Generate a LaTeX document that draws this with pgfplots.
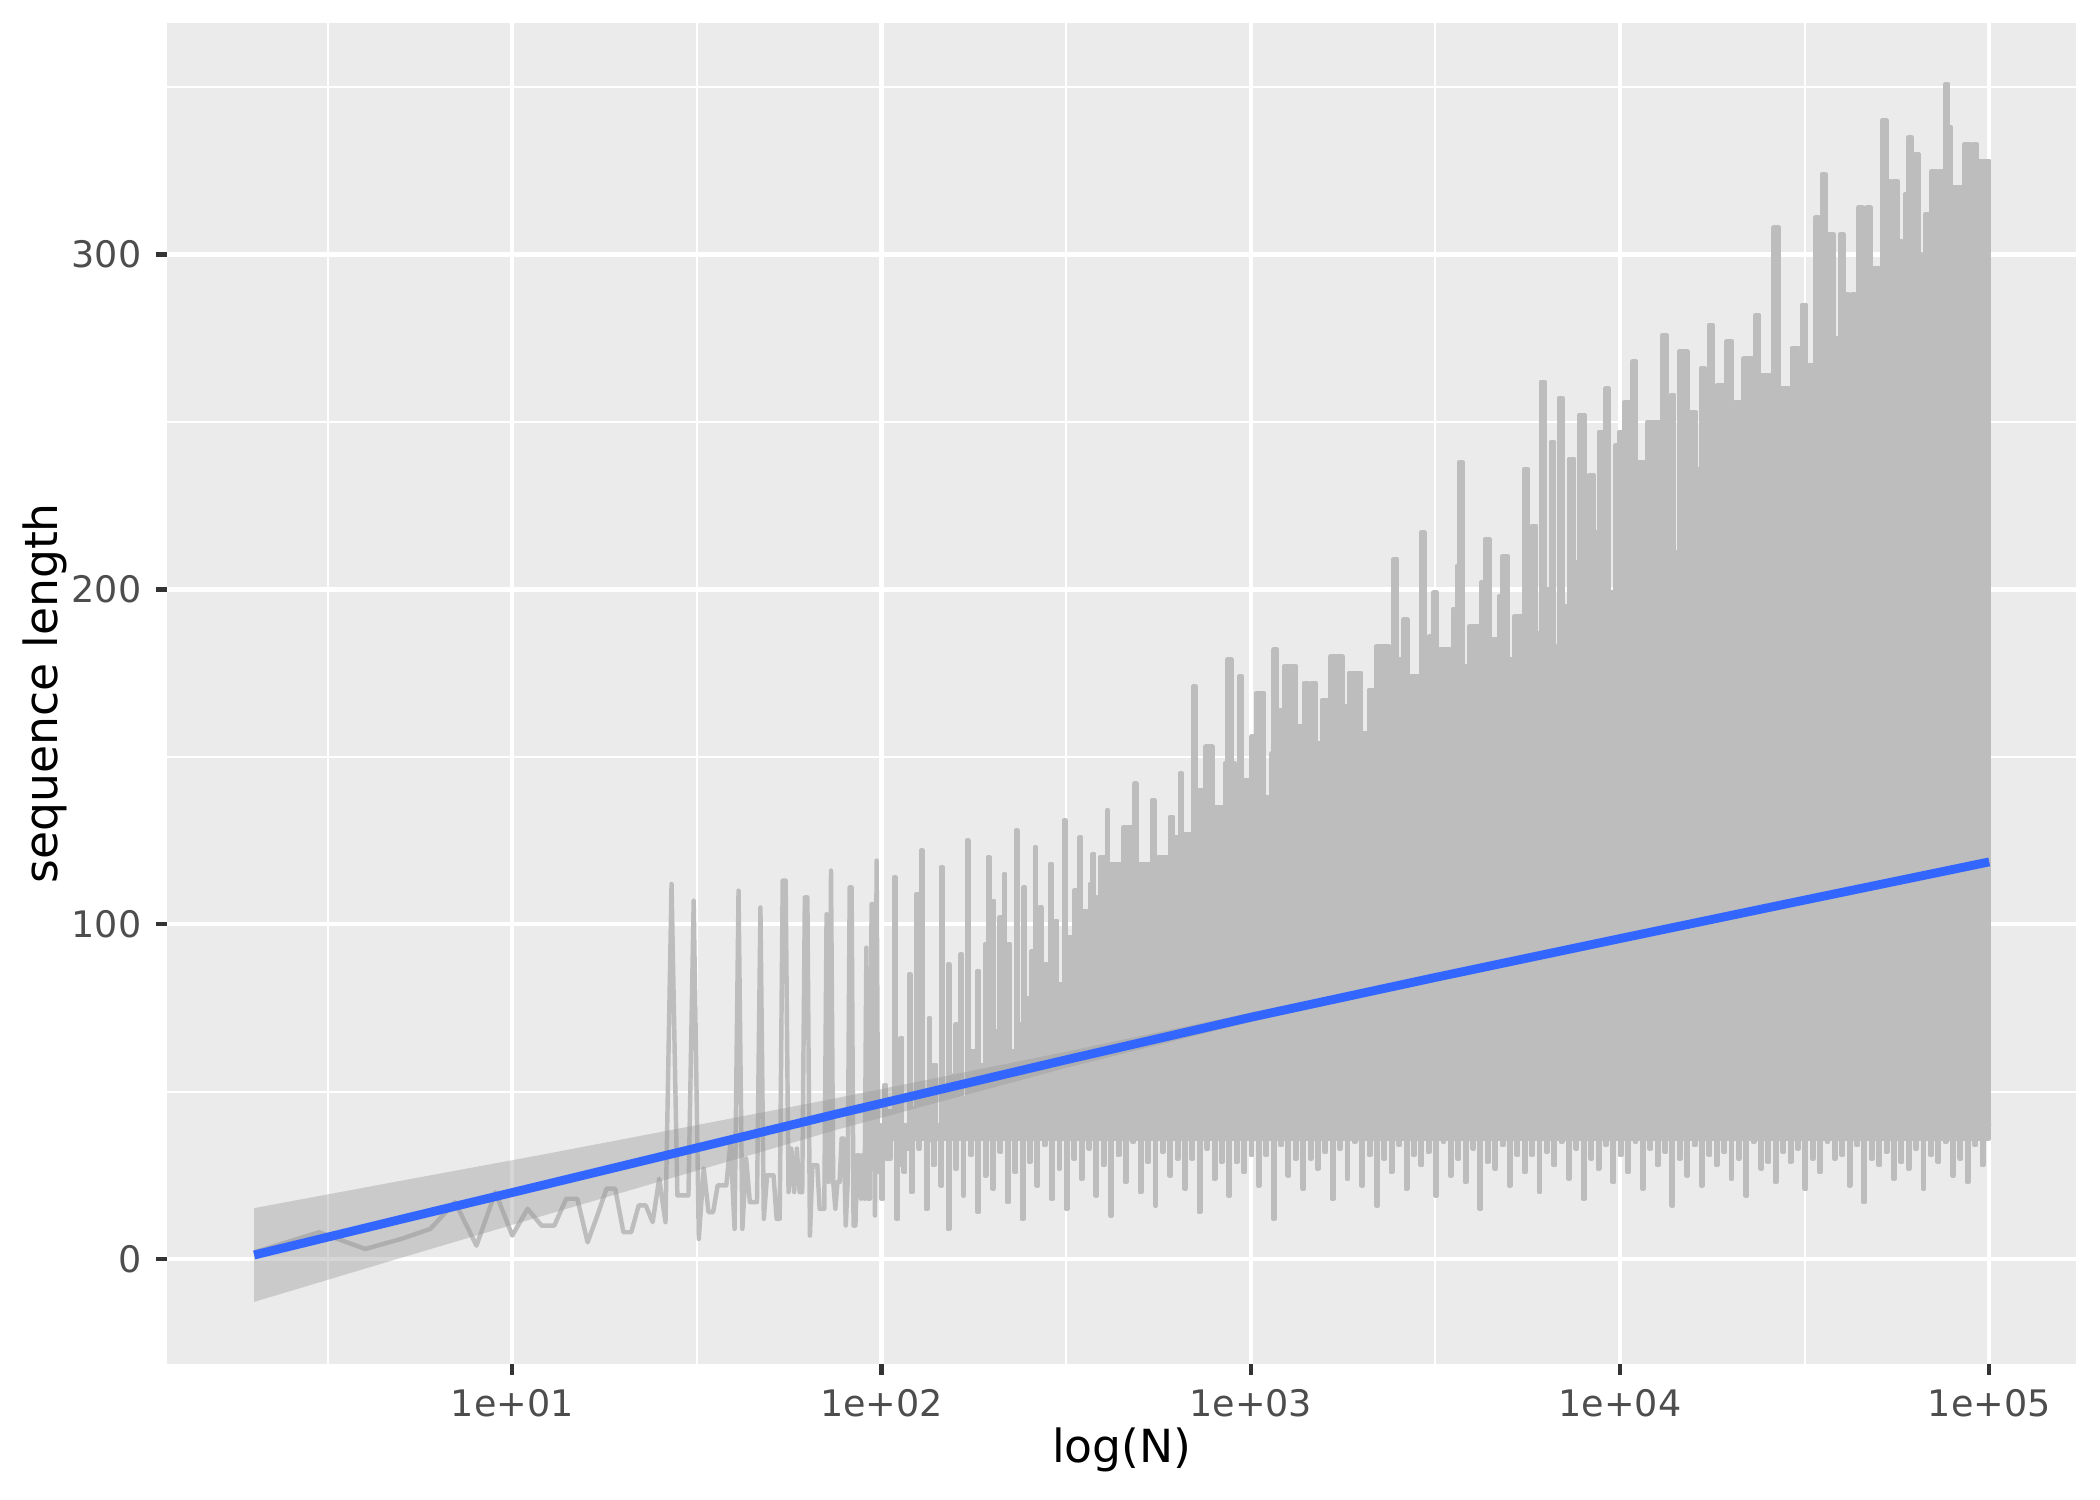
\documentclass[border=0pt]{standalone}
\usepackage{pgfplots}
\pgfplotsset{compat=1.18}
\usetikzlibrary{calc}
\usepackage{fontspec}
\setmainfont{DejaVu Sans}
\definecolor{panelbg}{HTML}{EBEBEB}
\definecolor{ticktext}{HTML}{4D4D4D}
\definecolor{tickmark}{HTML}{333333}
\definecolor{smoothblue}{HTML}{3366FF}
\definecolor{ribbongrey}{HTML}{999999}
\definecolor{datagrey}{HTML}{BDBDBD}
\begin{document}
\begin{tikzpicture}
\begin{axis}[
  scale only axis, width=6.362in, height=4.469in,
  xmin=0.066, xmax=5.235, ymin=-31.2, ymax=369.2,
  axis background/.style={fill=panelbg},
  axis line style={draw=none},
  xtick={1,2,3,4,5}, xticklabels={1e+01,1e+02,1e+03,1e+04,1e+05},
  minor xtick={0.5,1.5,2.5,3.5,4.5},
  ytick={0,100,200,300}, yticklabels={0,100,200,300},
  minor ytick={50,150,250,350},
  grid=both,
  major grid style={white, line width=1.07pt},
  minor grid style={white, line width=0.53pt},
  tick align=outside, xtick pos=bottom, ytick pos=left,
  major tick length=2.75pt, minor tick length=0pt,
  every tick/.style={tickmark, line width=1.07pt},
  ticklabel style={font=\fontsize{8.8}{10}\selectfont, text=ticktext},
  xlabel={log(N)}, ylabel={sequence length},
  label style={font=\fontsize{11}{13}\selectfont, text=black},
  xlabel style={at={($(rel axis cs:0.5,0)+(0,-20.9pt)$)}, anchor=center},
  ylabel style={at={($(rel axis cs:0,0.5)+(-29.5pt,0)$)}, anchor=center},
  clip=true,
]
% upper profile of the dense region (N >= 100), x = log10(N)
\addplot[const plot, fill=datagrey, draw=datagrey, line width=1.07pt, line join=round] coordinates {
(1.9956,26) (2.000,35) (2.008,52) (2.012,30) (2.020,44) (2.034,114) (2.038,38) (2.046,28) (2.052,66) (2.056,40)
(2.066,33) (2.074,85) (2.078,45) (2.086,36) (2.095,109) (2.099,42) (2.107,122) (2.111,48) (2.120,35) (2.128,72)
(2.132,44) (2.140,58) (2.148,38) (2.161,117) (2.165,50) (2.172,40) (2.180,88) (2.184,55) (2.192,46) (2.200,70)
(2.205,52) (2.214,91) (2.218,48) (2.231,125) (2.235,56) (2.244,62) (2.252,45) (2.260,86) (2.264,58) (2.272,50)
(2.280,94) (2.284,60) (2.288,120) (2.292,60) (2.300,107) (2.304,54) (2.312,68) (2.320,102) (2.325,58) (2.331,115)
(2.335,64) (2.344,94) (2.348,62) (2.364,128) (2.368,70) (2.376,60) (2.384,111) (2.389,66) (2.398,78) (2.406,92)
(2.410,70) (2.415,123) (2.419,72) (2.428,105) (2.434,68) (2.442,88) (2.448,74) (2.457,118) (2.461,76) (2.470,101)
(2.476,82) (2.494,131) (2.498,78) (2.506,96) (2.514,84) (2.522,110) (2.527,88) (2.536,126) (2.540,84) (2.548,104)
(2.556,92) (2.564,112) (2.568,95) (2.572,121) (2.576,96) (2.584,108)
(2.592,120) (2.610,134) (2.614,118) (2.655,129) (2.680,118) (2.685,142) (2.690,118) (2.732,137) (2.740,120) (2.781,132)
(2.790,126) (2.808,145) (2.814,127) (2.844,171) (2.850,120) (2.860,140) (2.878,153) (2.896,125) (2.905,135) (2.930,148)
(2.937,179) (2.948,148) (2.957,130) (2.968,174) (2.977,130) (2.982,143) (3.002,156) (3.015,169) (3.036,138) (3.056,151)
(3.062,182) (3.071,151) (3.081,164) (3.090,177) (3.108,147) (3.113,177) (3.123,159) (3.144,172) (3.155,142) (3.164,172)
(3.176,154) (3.194,167) (3.214,137) (3.216,180) (3.248,165) (3.266,175) (3.299,145) (3.304,157) (3.320,170) (3.340,183)
(3.356,153) (3.360,183) (3.374,166) (3.387,209) (3.396,179) (3.414,191) (3.425,160) (3.434,174) (3.461,217) (3.470,155)
(3.484,186) (3.495,199) (3.504,169) (3.513,182) (3.547,194) (3.558,207) (3.565,238) (3.574,177) (3.592,189) (3.623,202)
(3.635,215) (3.646,185) (3.673,198) (3.682,210) (3.695,179) (3.714,192) (3.741,236) (3.750,205) (3.761,219) (3.772,187)
(3.786,262) (3.795,200) (3.813,244) (3.822,183) (3.835,257) (3.846,195) (3.862,239) (3.876,208) (3.889,252) (3.905,191)
(3.916,234) (3.930,217) (3.943,247) (3.957,199) (3.961,260) (3.970,199) (3.988,243)
(3.998,247) (4.012,256) (4.030,207) (4.034,268) (4.043,238) (4.066,220) (4.075,250) (4.106,202) (4.115,276) (4.126,246)
(4.138,258) (4.147,211) (4.160,271) (4.183,253) (4.205,236) (4.219,266) (4.230,236) (4.241,279) (4.250,248) (4.263,261)
(4.281,213) (4.288,274) (4.304,244) (4.313,256) (4.335,269) (4.358,239) (4.367,282) (4.376,252) (4.385,264) (4.407,234)
(4.416,308) (4.430,260) (4.457,229) (4.466,272) (4.484,255) (4.493,285) (4.504,267) (4.529,311) (4.538,280) (4.547,324)
(4.556,250) (4.565,306) (4.578,245) (4.587,275) (4.596,306) (4.605,288) (4.619,258) (4.628,288) (4.637,271) (4.646,314)
(4.657,283) (4.668,314) (4.679,265) (4.686,296) (4.700,279) (4.709,340) (4.722,322) (4.731,261) (4.740,322) (4.751,304)
(4.763,274) (4.772,318) (4.781,335) (4.790,318) (4.799,330) (4.808,300) (4.817,269) (4.826,312) (4.844,325) (4.857,295)
(4.866,325) (4.875,307) (4.882,351) (4.888,338) (4.897,320) (4.924,303) (4.933,333) (4.947,315) (4.956,333) (4.965,315)
(4.974,328) (4.983,298) (4.987,328) (5.000,328)
(5.000,36) (1.9956,36)
} -- cycle;
% lower profile of the dense region
\addplot[const plot, fill=datagrey, draw=datagrey, line width=1.07pt, line join=round] coordinates {
(2.00,18) (2.004,40) (2.02,30) (2.024,40) (2.04,12) (2.044,40) (2.06,26) (2.064,40) (2.08,20) (2.084,40)
(2.10,33) (2.104,40) (2.12,15) (2.124,40) (2.14,28) (2.144,40) (2.16,22) (2.164,40) (2.18,9) (2.184,40)
(2.20,27) (2.204,40) (2.22,19) (2.224,40) (2.24,31) (2.244,40) (2.26,14) (2.264,40) (2.28,25) (2.284,40)
(2.30,21) (2.304,40) (2.32,32) (2.324,40) (2.34,17) (2.344,40) (2.36,26) (2.364,40) (2.38,12) (2.384,40)
(2.40,29) (2.404,40) (2.42,22) (2.424,40) (2.44,34) (2.444,40) (2.46,18) (2.464,40) (2.48,27) (2.484,40)
(2.50,15) (2.504,40) (2.52,30) (2.524,40) (2.54,24) (2.544,40) (2.56,33) (2.564,40) (2.58,19) (2.584,40)
(2.60,28) (2.604,40) (2.62,13) (2.624,40) (2.64,31) (2.644,40) (2.66,23) (2.664,40) (2.68,35) (2.684,40)
(2.70,20) (2.704,40) (2.72,29) (2.724,40) (2.74,16) (2.744,40) (2.76,32) (2.764,40) (2.78,25) (2.784,40)
(2.80,30) (2.804,40) (2.82,21) (2.824,40) (2.84,30) (2.844,40) (2.86,14) (2.864,40) (2.88,33) (2.884,40)
(2.90,24) (2.904,40) (2.92,29) (2.924,40) (2.94,19) (2.944,40) (2.96,29) (2.964,40) (2.98,26) (2.984,40)
(3.00,31) (3.004,40) (3.02,22) (3.024,40) (3.04,31) (3.044,40) (3.06,12) (3.064,40) (3.08,34) (3.084,40)
(3.10,25) (3.104,40) (3.12,30) (3.124,40) (3.14,21) (3.144,40) (3.16,30) (3.164,40) (3.18,27) (3.184,40)
(3.20,32) (3.204,40) (3.22,18) (3.224,40) (3.24,33) (3.244,40) (3.26,24) (3.264,40) (3.28,35) (3.284,40)
(3.30,22) (3.304,40) (3.32,31) (3.324,40) (3.34,16) (3.344,40) (3.36,30) (3.364,40) (3.38,26) (3.384,40)
(3.40,34) (3.404,40) (3.42,21) (3.424,40) (3.44,31) (3.444,40) (3.46,28) (3.464,40) (3.48,32) (3.484,40)
(3.50,19) (3.504,40) (3.52,35) (3.524,40) (3.54,25) (3.544,40) (3.56,30) (3.564,40) (3.58,23) (3.584,40)
(3.60,33) (3.604,40) (3.62,15) (3.624,40) (3.64,29) (3.644,40) (3.66,27) (3.664,40) (3.68,34) (3.684,40)
(3.70,22) (3.704,40) (3.72,31) (3.724,40) (3.74,26) (3.744,40) (3.76,31) (3.764,40) (3.78,20) (3.784,40)
(3.80,32) (3.804,40) (3.82,28) (3.824,40) (3.84,35) (3.844,40) (3.86,24) (3.864,40) (3.88,33) (3.884,40)
(3.90,18) (3.904,40) (3.92,30) (3.924,40) (3.94,27) (3.944,40) (3.96,34) (3.964,40) (3.98,23) (3.984,40)
(4.00,31) (4.004,40) (4.02,26) (4.024,40) (4.04,35) (4.044,40) (4.06,21) (4.064,40) (4.08,33) (4.084,40)
(4.10,28) (4.104,40) (4.12,32) (4.124,40) (4.14,16) (4.144,40) (4.16,30) (4.164,40) (4.18,25) (4.184,40)
(4.20,34) (4.204,40) (4.22,22) (4.224,40) (4.24,31) (4.244,40) (4.26,28) (4.264,40) (4.28,32) (4.284,40)
(4.30,24) (4.304,40) (4.32,30) (4.324,40) (4.34,19) (4.344,40) (4.36,35) (4.364,40) (4.38,27) (4.384,40)
(4.40,29) (4.404,40) (4.42,23) (4.424,40) (4.44,32) (4.444,40) (4.46,29) (4.464,40) (4.48,33) (4.484,40)
(4.50,21) (4.504,40) (4.52,30) (4.524,40) (4.54,26) (4.544,40) (4.56,35) (4.564,40) (4.58,30) (4.584,40)
(4.60,31) (4.604,40) (4.62,22) (4.624,40) (4.64,34) (4.644,40) (4.66,17) (4.664,40) (4.68,30) (4.684,40)
(4.70,28) (4.704,40) (4.72,32) (4.724,40) (4.74,24) (4.744,40) (4.76,29) (4.764,40) (4.78,27) (4.784,40)
(4.80,33) (4.804,40) (4.82,21) (4.824,40) (4.84,31) (4.844,40) (4.86,29) (4.864,40) (4.88,35) (4.884,40)
(4.90,25) (4.904,40) (4.92,30) (4.924,40) (4.94,23) (4.944,40) (4.96,34) (4.964,40) (4.98,28) (4.984,40)
(5.00,40) (2.00,40)
} -- cycle;
% exact values for N = 2 ... 99
\addplot[datagrey, line width=1.07pt, line join=round] table[x expr={log10(\thisrow{N})}, y=len] {
N len
2 2
3 8
4 3
5 6
6 9
7 17
8 4
9 20
10 7
11 15
12 10
13 10
14 18
15 18
16 5
17 13
18 21
19 21
20 8
21 8
22 16
23 16
24 11
25 24
26 11
27 112
28 19
29 19
30 19
31 107
32 6
33 27
34 14
35 14
36 22
37 22
38 22
39 35
40 9
41 110
42 9
43 30
44 17
45 17
46 17
47 105
48 12
49 25
50 25
51 25
52 12
53 12
54 113
55 113
56 20
57 33
58 20
59 33
60 20
61 20
62 108
63 108
64 7
65 28
66 28
67 28
68 15
69 15
70 15
71 103
72 23
73 116
74 23
75 15
76 23
77 23
78 36
79 36
80 10
81 23
82 111
83 111
84 10
85 10
86 31
87 31
88 18
89 31
90 18
91 93
92 18
93 18
94 106
95 106
96 13
97 119
98 26
99 26
};
\addplot[draw=none, fill=ribbongrey, fill opacity=0.4] coordinates {
(0.301,15.2) (0.7,23.4) (1.073,31.0) (1.5,40.0) (1.885,48.2) (2.5,61.9) (3.0,73.6) (3.5,85.0) (4.0,96.4) (4.5,107.9) (5.0,119.6)
(5.0,117.6) (4.5,106.5) (4.0,95.0) (3.5,83.2) (3.0,70.8) (2.5,57.1) (1.885,38.8) (1.5,26.4) (1.073,12.6) (0.7,0.4) (0.301,-12.8)
} -- cycle;
\addplot[smoothblue, line width=2.13pt] coordinates {
(0.301,1.2) (0.7,11.9) (1.073,21.8) (1.5,33.2) (1.885,43.5) (2.5,59.5) (3.0,72.2) (3.5,84.1) (4.0,95.7) (4.5,107.2) (5.0,118.6)
};
\end{axis}
\pgfresetboundingbox
\path ([xshift=-0.558in,yshift=-0.455in]current axis.south west) rectangle ([xshift=0.08in,yshift=0.076in]current axis.north east);
\end{tikzpicture}
\end{document}
